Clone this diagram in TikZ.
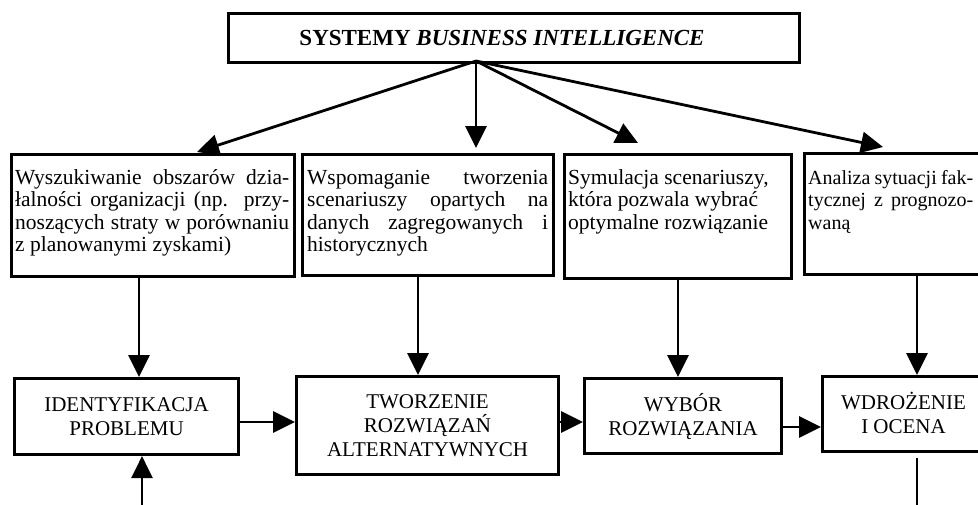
\documentclass[tikz,border=0pt]{standalone}
\usepackage{fontspec}
\setmainfont{Liberation Serif}
\usetikzlibrary{arrows.meta}
\newcommand\jl[2]{\makebox[#1][s]{#2}}
\newcommand\fst{\rule{0pt}{16pt}}
\begin{document}
\begin{tikzpicture}[x=1pt,y=-1pt,
  box/.style={draw, line width=3.1pt, rectangle, inner sep=0pt, anchor=north west},
  upper/.style={anchor=north west, inner sep=0pt, align=left, font=\fontsize{21.5}{22.5}\selectfont},
  lower/.style={box, align=center, font=\fontsize{21}{24}\selectfont},
  arr/.style={line width=2.8pt, -{Triangle[length=22pt,width=21pt]}}]
\useasboundingbox (0,0) rectangle (978,504);
\clip (0,0) rectangle (978,504);

% top box
\node[box, minimum width=571pt, minimum height=49pt, font=\fontsize{23}{26}\selectfont] (top) at (227,12) {\textbf{SYSTEMY \textit{BUSINESS INTELLIGENCE}}\hspace*{24pt}};

% upper boxes
\node[box, minimum width=283pt, minimum height=122pt] (b1) at (10,153) {};
\node[box, minimum width=251pt, minimum height=121pt] (b2) at (301,153) {};
\node[box, minimum width=227pt, minimum height=124pt] (b3) at (563,153) {};
\node[box, minimum width=180pt, minimum height=121pt] (b4) at (803,152) {};

\node[upper] (t1) at (15,168) {\fst\jl{274pt}{Wyszukiwanie obszarów dzia-}\\
\jl{274pt}{łalności organizacji (np. przy-}\\
\jl{274pt}{noszących straty w porównaniu}\\
z planowanymi zyskami)};
\node[upper] (t2) at (307,168) {\fst\jl{241pt}{Wspomaganie tworzenia}\\
\jl{241pt}{scenariuszy opartych na}\\
\jl{241pt}{danych zagregowanych i}\\
historycznych};
\node[upper] (t3) at (568,168) {\fst Symulacja scenariuszy,\\
która pozwala wybrać\\
optymalne rozwiązanie};
\node[upper, font=\fontsize{20}{22.5}\selectfont] (t4) at (808,168) {\fst\jl{165pt}{Analiza sytuacji fak-}\\
\jl{165pt}{tycznej z prognozo-}\\
waną};

% lower boxes
\node[lower, minimum width=224pt, minimum height=76pt] (l1) at (13,377) {IDENTYFIKACJA\\PROBLEMU};
\node[lower, minimum width=262pt, minimum height=98pt] (l2) at (295,375) {TWORZENIE\\ROZWIĄZAŃ\\ALTERNATYWNYCH};
\node[lower, minimum width=197pt, minimum height=75pt] (l3) at (583,377) {WYBÓR\\ROZWIĄZANIA};
\node[lower, minimum width=162pt, minimum height=75pt] (l4) at (821,375) {\raisebox{3pt}{WDROŻENIE}\\\raisebox{3pt}{I OCENA}};

% fan arrows from the top box
\coordinate (o) at (476,61);
\coordinate (f1) at (197,152);
\coordinate (f2) at (476,148);
\coordinate (f3) at (638,143);
\coordinate (f4) at (883,147);
\draw[arr] (o) -- (f1);
\draw[arr] (o) -- (f2);
\draw[arr] (o) -- (f3);
\draw[arr] (o) -- (f4);

% down arrows
\coordinate (x1) at (139,0);
\coordinate (x2) at (418,0);
\coordinate (x3) at (678,0);
\coordinate (x4) at (917,0);
\draw[arr] (b1.south -| x1) -- (l1.north -| x1);
\draw[arr] (b2.south -| x2) -- (l2.north -| x2);
\draw[arr] (b3.south -| x3) -- (l3.north -| x3);
\draw[arr] (b4.south -| x4) -- (l4.north -| x4);

% horizontal arrows
\coordinate (h1) at (0,422);
\coordinate (h2) at (0,422);
\coordinate (h3) at (0,427);
\draw[arr] (l1.east |- h1) -- (l2.west |- h1);
\draw[arr] (l2.east |- h2) -- (l3.west |- h2);
\draw[arr] (l3.east |- h3) -- (l4.west |- h3);

% feedback loop (continues below the visible area)
\coordinate (fb1) at (917,458);
\coordinate (fb2) at (917,540);
\coordinate (fb3) at (142,540);
\draw[arr] (fb1) -- (fb2) -- (fb3) -- (l1.south -| fb3);
\end{tikzpicture}
\end{document}
